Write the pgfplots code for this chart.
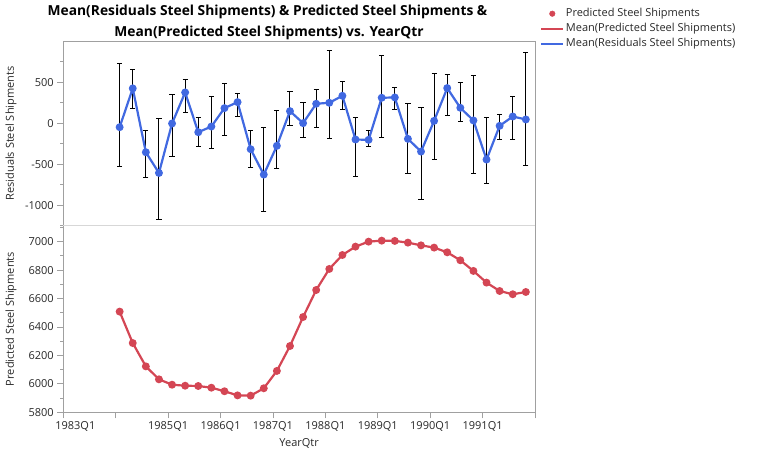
\documentclass[border=0pt]{standalone}
\usepackage{fontspec}
\setmainfont{Open Sans}
\usepackage{pgfplots}
\usepackage{pgfplotstable}
\pgfplotsset{compat=1.18}

\definecolor{jmpred}{RGB}{212,70,84}
\definecolor{jmpblue}{RGB}{65,105,225}
\definecolor{framegray}{RGB}{160,160,160}
\definecolor{divgray}{RGB}{215,215,215}
\definecolor{txtgray}{RGB}{40,40,40}

% quarters since 1983Q1; ep/em = distance to top/bottom of the bar
\pgfplotstableread{
x    y     ep   em
4.3  -49   781  475
5.3  423   236  240
6.3  -354  261  313
7.3  -606  667  565
8.3  -4    358  398
9.3  374   163  240
10.3 -110  183  170
11.3 -41   370  272
12.3 183   305  329
13.3 256   110  171
14.3 -317  224  228
15.3 -626  577  447
16.3 -276  426  281
17.3 146   244  170
18.3 0     256  171
19.3 236   179  285
20.3 248   638  439
21.3 333   179  162
22.3 -199  272  447
23.3 -203  118  77
24.3 309   512  480
25.3 313   126  150
26.3 -191  427  419
27.3 -346  541  581
28.3 28    582  475
29.3 427   171  329
30.3 187   313  163
31.3 33    544  643
32.3 -443  516  297
33.3 -33   143  170
34.3 81    244  284
35.3 45    809  565
}\resid

\pgfplotstableread{
x    y
4.3  6508
5.3  6287
6.3  6123
7.3  6032
8.3  5994
9.3  5987
10.3 5985
11.3 5973
12.3 5948
13.3 5919
14.3 5917
15.3 5969
16.3 6091
17.3 6266
18.3 6470
19.3 6660
20.3 6808
21.3 6906
22.3 6965
23.3 7000
24.3 7007
25.3 7005
26.3 6993
27.3 6974
28.3 6958
29.3 6925
30.3 6869
31.3 6794
32.3 6712
33.3 6653
34.3 6630
35.3 6646
}\pred

\begin{document}
\begin{tikzpicture}
\pgfplotsset{
  panel/.style={
    scale only axis, width=471.7pt, xmin=0, xmax=36,
    axis line style={draw=none},
    tick align=outside, major tick length=6pt, minor tick length=3pt,
    tick style={framegray, line width=0.8pt},
    ytick pos=left, xtick pos=bottom,
    scaled ticks=false,
    ticklabel style={font=\fontsize{11}{13}\selectfont, text=txtgray},
    /pgf/number format/assume math mode=true,
    /pgf/number format/1000 sep={},
    label style={font=\fontsize{11}{13}\selectfont, text=txtgray},
    ylabel style={at={(axis description cs:-0.1109,0.5)}, anchor=center},
  }
}

\node[font=\bfseries\fontsize{13.8}{16}\selectfont, anchor=base] at (267.5pt,-16pt)
  {Mean(Residuals Steel Shipments) \& Predicted Steel Shipments \&};
\node[font=\bfseries\fontsize{13.8}{16}\selectfont, anchor=base] at (269pt,-36pt)
  {Mean(Predicted Steel Shipments) vs. YearQtr};

\begin{axis}[panel,
    at={(63.3pt,-225.85pt)}, anchor=south west, height=184.85pt,
    ymin=-1250, ymax=1000,
    ytick={-1000,-500,0,500}, minor ytick={-1250,-750,...,750},
    xtick=\empty,
    ylabel={Residuals Steel Shipments},
    legend style={at={(axis description cs:1.0106,1.1866)}, anchor=north west,
      draw=none, fill=none, inner sep=0pt, row sep=1pt,
      font=\fontsize{11}{13}\selectfont,
      nodes={inner sep=1.5pt, text height=8.5pt, text depth=2.5pt, text=txtgray}},
    legend cell align=left]
  \addlegendimage{legend image code/.code={\fill[jmpred] (11pt,0pt) circle (2.8pt);}}
  \addlegendentry{Predicted Steel Shipments}
  \addlegendimage{legend image code/.code={\draw[jmpred, line width=2.2pt] (0pt,0pt) -- (22pt,0pt);}}
  \addlegendentry{Mean(Predicted Steel Shipments)}
  \addlegendimage{legend image code/.code={\draw[jmpblue, line width=2.2pt] (0pt,0pt) -- (22pt,0pt);}}
  \addlegendentry{Mean(Residuals Steel Shipments)}

  \addplot[only marks, mark=none, black, forget plot,
    error bars/.cd, y dir=both, y explicit,
    error bar style={black, line width=1pt},
    error mark options={rotate=90, black, mark size=2.6pt, line width=1pt}]
    table[x=x, y=y, y error plus=ep, y error minus=em] {\resid};
  \addplot[jmpblue, line width=2.2pt, mark=*, mark size=2.8pt, forget plot]
    table[x=x, y=y] {\resid};
\end{axis}

\begin{axis}[panel,
    at={(63.3pt,-412.3pt)}, anchor=south west, height=186.45pt,
    ymin=5800, ymax=7111,
    ytick={5800,6000,...,7000}, minor ytick={5900,6100,...,7100},
    xtick={4,8,...,36},
    xticklabels={,1985Q1,1986Q1,1987Q1,1988Q1,1989Q1,1990Q1,1991Q1,},
    extra x ticks={0}, extra x tick labels={1983Q1},
    extra x tick style={xticklabel style={xshift=12pt}},
    xlabel={YearQtr},
    xlabel style={at={(axis description cs:0.5,-0.166)}, anchor=center},
    ylabel={Predicted Steel Shipments}]
  \addplot[jmpred, line width=2.2pt, mark=*, mark size=2.8pt]
    table[x=x, y=y] {\pred};
\end{axis}

\draw[framegray, line width=1pt] (63.3pt,-41pt) rectangle (535pt,-412.3pt);
\draw[divgray, line width=1pt] (63.3pt,-225.85pt) -- (535pt,-225.85pt);
\path (0pt,0pt) rectangle (768pt,-455pt);
\end{tikzpicture}
\end{document}
